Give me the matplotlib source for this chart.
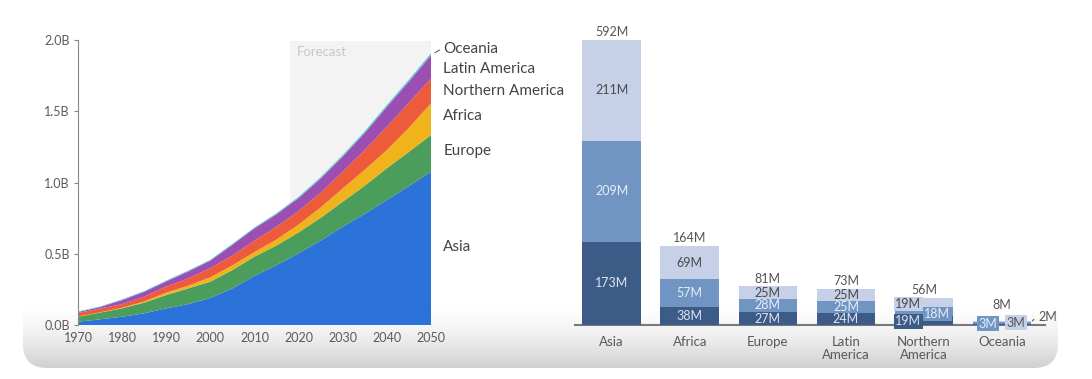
import numpy as np
import matplotlib.pyplot as plt
from matplotlib.patches import FancyBboxPatch
from matplotlib.colors import to_rgb

plt.rcParams['font.family'] = ['Lato', 'DejaVu Sans']

# left chart: stacked areas, billions (read every 5 years)
years = list(range(1970, 2051, 5))
asia = [0.023, 0.040, 0.058, 0.082, 0.117, 0.147, 0.190, 0.257, 0.345,
        0.420, 0.503, 0.592, 0.690, 0.780, 0.877, 0.975, 1.076]
europe = [0.035, 0.047, 0.059, 0.075, 0.093, 0.110, 0.114, 0.129, 0.135,
          0.138, 0.147, 0.160, 0.175, 0.198, 0.223, 0.240, 0.257]
africa = [0.002, 0.002, 0.004, 0.008, 0.017, 0.019, 0.031, 0.032, 0.032,
          0.042, 0.055, 0.073, 0.094, 0.112, 0.128, 0.170, 0.223]
n_america = [0.025, 0.026, 0.026, 0.034, 0.042, 0.051, 0.065, 0.070, 0.080,
             0.090, 0.095, 0.105, 0.117, 0.138, 0.164, 0.175, 0.174]
l_america = [0.006, 0.011, 0.028, 0.034, 0.037, 0.049, 0.052, 0.075, 0.086,
             0.087, 0.091, 0.098, 0.106, 0.120, 0.139, 0.148, 0.162]
oceania = [0.004, 0.004, 0.005, 0.005, 0.006, 0.006, 0.006, 0.007, 0.007,
           0.008, 0.009, 0.010, 0.011, 0.012, 0.013, 0.014, 0.015]
area_names = ['Asia', 'Europe', 'Africa', 'Northern America', 'Latin America', 'Oceania']
area_colors = ['#2b73d9', '#4b9d5b', '#f1b31c', '#ee5b3b', '#9c4fb1', '#56c6dc']
forecast_start = 2018

# right chart: stacked bars, millions
bar_regions = ['Asia', 'Africa', 'Europe', 'Latin\nAmerica', 'Northern\nAmerica', 'Oceania']
seg_dark = [173, 38, 27, 24, 19, 3]
seg_mid = [209, 57, 28, 25, 18, 3]
seg_light = [211, 69, 25, 25, 19, 2]
totals = [592, 164, 81, 73, 56, 8]

W, H = 1092, 379
fig = plt.figure(figsize=(W / 100, H / 100), dpi=100)
fig.patch.set_facecolor('white')

# card background with grey fade at the bottom
bg = fig.add_axes([0, 0, 1, 1], zorder=-10)
bg.set_xlim(0, W)
bg.set_ylim(H, 0)
bg.axis('off')
t = np.linspace(0, 1, 80) ** 1.5
c0, c1 = np.array(to_rgb('#ffffff')), np.array(to_rgb('#d0d0d0'))
grad = (c0[None, :] * (1 - t[:, None]) + c1[None, :] * t[:, None])[:, None, :]
card = FancyBboxPatch((23, -60), 1035, 428, boxstyle='round,pad=0,rounding_size=24',
                      facecolor='none', edgecolor='none')
bg.add_patch(card)
im = bg.imshow(grad, extent=(23, 1058, 368, 305), aspect='auto', interpolation='bilinear')
im.set_clip_path(card)

text_col = '#5a5a5a'

# ---- left: stacked area ----
ax = fig.add_axes([78 / W, (H - 325) / H, (431 - 78) / W, (325 - 40) / H])
ax.set_facecolor('none')
ax.axvspan(forecast_start, 2050, ymax=0.995, color='#f3f3f3', zorder=0, lw=0)
ax.text(forecast_start + 1.5, 1.915, 'Forecast', color='#c9c9c9', fontsize=9.5, va='center')
ax.stackplot(years, asia, europe, africa, n_america, l_america, oceania,
             colors=area_colors, zorder=2, lw=0)
ax.set_xlim(1970, 2050)
ax.set_ylim(0, 2.0)
ax.set_xticks(range(1970, 2051, 10))
ax.set_yticks([0, 0.5, 1.0, 1.5, 2.0])
ax.set_yticklabels(['0.0B', '0.5B', '1.0B', '1.5B', '2.0B'])
ax.tick_params(axis='x', length=0, pad=5, labelsize=9, colors=text_col)
ax.tick_params(axis='y', length=3, pad=3, labelsize=9, colors=text_col, color='#888888')
for s in ['top', 'right', 'bottom']:
    ax.spines[s].set_visible(False)
ax.spines['left'].set_color('#888888')

# labels to the right of the areas
label_y = {'Oceania': 1.94, 'Latin America': 1.795, 'Northern America': 1.64,
           'Africa': 1.465, 'Europe': 1.22, 'Asia': 0.545}
for name in area_names:
    ax.text(2052.8, label_y[name], name, fontsize=11, color='#444444',
            va='center', ha='left', clip_on=False)
ax.annotate('', xy=(2050.3, 1.90), xytext=(2052.5, 1.94),
            arrowprops=dict(arrowstyle='-', color='#666666', lw=0.8), annotation_clip=False)

# ---- right: stacked bars ----
bx = fig.add_axes([575 / W, (H - 325) / H, (1045 - 575) / W, (325 - 40) / H])
bx.set_facecolor('none')
x = np.arange(len(bar_regions))
dark, mid, light = '#3d5b87', '#7095c3', '#c6d1e7'
bw = 0.75
bx.bar(x, seg_dark, bw, color=dark, zorder=2)
bx.bar(x, seg_mid, bw, bottom=seg_dark, color=mid, zorder=2)
bot3 = np.array(seg_dark) + np.array(seg_mid)
bx.bar(x, seg_light, bw, bottom=bot3, color=light, zorder=2)
bx.set_xlim(-0.47, 5.55)
bx.set_ylim(0, 592)
bx.set_xticks(x)
bx.set_xticklabels(bar_regions, fontsize=9.5, color=text_col, linespacing=1.05)
bx.tick_params(axis='x', length=0, pad=8)
bx.set_yticks([])
for s in ['top', 'right', 'left']:
    bx.spines[s].set_visible(False)
bx.spines['bottom'].set_color('#7a7a7a')
bx.spines['bottom'].set_linewidth(1.5)
bx.spines['bottom'].set_zorder(1)

fs = 9
for i in range(len(bar_regions)):
    gap = 22 if i == 5 else 4
    bx.text(x[i], bot3[i] + seg_light[i] + gap, f'{totals[i]}M', ha='center', va='bottom',
            fontsize=fs, color='#555555', clip_on=False)
    if i < 4:
        bx.text(x[i], seg_dark[i] / 2, f'{seg_dark[i]}M', ha='center', va='center',
                fontsize=fs, color='#dde3ee', zorder=3)
        bx.text(x[i], seg_dark[i] + seg_mid[i] / 2, f'{seg_mid[i]}M', ha='center', va='center',
                fontsize=fs, color='#e6edf8', zorder=3)
        bx.text(x[i], bot3[i] + seg_light[i] / 2, f'{seg_light[i]}M', ha='center', va='center',
                fontsize=fs, color='#4a4a4a', zorder=3)

# Northern America: small segments, labels shifted sideways
i = 4
bx.text(x[i] - 0.2, seg_dark[i] / 2 - 2, f'{seg_dark[i]}M', ha='center', va='center',
        fontsize=fs, color='#dde3ee', zorder=4,
        bbox=dict(boxstyle='square,pad=0.1', fc=dark, ec='none'))
bx.text(x[i] + 0.17, seg_dark[i] + seg_mid[i] / 2 - 5, f'{seg_mid[i]}M', ha='center', va='center',
        fontsize=fs, color='#e6edf8', zorder=4,
        bbox=dict(boxstyle='square,pad=0.1', fc=mid, ec='none'))
bx.text(x[i] - 0.2, bot3[i] + seg_light[i] / 2 - 3, f'{seg_light[i]}M', ha='center', va='center',
        fontsize=fs, color='#4a4a4a', zorder=4,
        bbox=dict(boxstyle='square,pad=0.1', fc=light, ec='none'))

# Oceania: tiny segments, boxed labels along the baseline
i = 5
bx.text(x[i] - 0.18, 3, f'{seg_dark[i]}M', ha='center', va='center',
        fontsize=fs, color='#e6edf8', zorder=4,
        bbox=dict(boxstyle='square,pad=0.15', fc=mid, ec='none'))
bx.text(x[i] + 0.18, 5, f'{seg_mid[i]}M', ha='center', va='center',
        fontsize=fs, color='#555555', zorder=4,
        bbox=dict(boxstyle='square,pad=0.15', fc=light, ec='none'))
bx.annotate(f'{seg_light[i]}M', xy=(x[i] + 0.36, 5), xytext=(x[i] + 0.47, 16),
            fontsize=fs, color='#555555', ha='left', va='center', annotation_clip=False,
            arrowprops=dict(arrowstyle='-', color='#555555', lw=0.8,
                            connectionstyle='angle,angleA=0,angleB=40'))

fig.savefig('out.png', dpi=100, facecolor='white')
